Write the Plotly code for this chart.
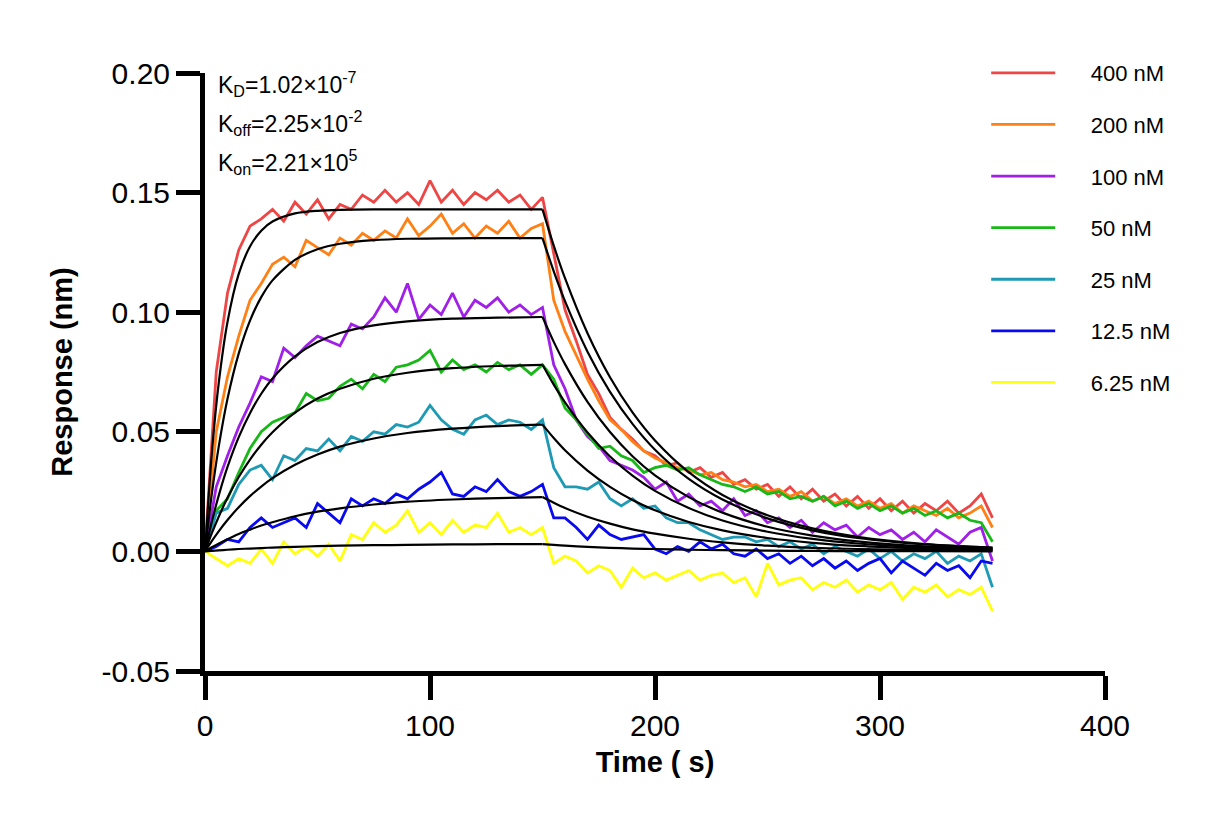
import plotly.graph_objects as go

# ---------------- data ----------------
time = list(range(0, 355, 5))  # seconds, 0..350

names = ["400 nM", "200 nM", "100 nM", "50 nM", "25 nM", "12.5 nM", "6.25 nM"]
colors = ["#EE4545", "#FF8015", "#A020E8", "#18B818", "#1E9AB4", "#0A0AF0", "#FFFF10"]

r400 = [0.000, 0.075, 0.108, 0.126, 0.136, 0.139, 0.143, 0.138, 0.146, 0.141,
        0.147, 0.139, 0.145, 0.143, 0.149, 0.146, 0.151, 0.146, 0.150, 0.145,
        0.155, 0.146, 0.151, 0.145, 0.150, 0.147, 0.151, 0.146, 0.149, 0.143,
        0.148, 0.124, 0.101, 0.088, 0.074, 0.066, 0.056, 0.051, 0.047, 0.042,
        0.040, 0.036, 0.037, 0.033, 0.035, 0.031, 0.033, 0.028, 0.030, 0.026,
        0.028, 0.023, 0.027, 0.022, 0.026, 0.021, 0.024, 0.019, 0.023, 0.018,
        0.022, 0.017, 0.021, 0.016, 0.020, 0.017, 0.021, 0.016, 0.019, 0.024,
        0.014]
r200 = [0.000, 0.050, 0.073, 0.090, 0.105, 0.112, 0.120, 0.123, 0.119, 0.130,
        0.127, 0.124, 0.131, 0.128, 0.133, 0.130, 0.134, 0.131, 0.139, 0.132,
        0.136, 0.141, 0.133, 0.137, 0.131, 0.136, 0.133, 0.138, 0.131, 0.135,
        0.137, 0.105, 0.092, 0.082, 0.072, 0.063, 0.055, 0.051, 0.046, 0.042,
        0.039, 0.037, 0.035, 0.034, 0.032, 0.033, 0.030, 0.029, 0.027, 0.028,
        0.025, 0.026, 0.023, 0.025, 0.021, 0.023, 0.020, 0.022, 0.019, 0.021,
        0.018, 0.020, 0.016, 0.019, 0.017, 0.015, 0.018, 0.014, 0.016, 0.019,
        0.010]
r100 = [0.000, 0.027, 0.040, 0.052, 0.062, 0.073, 0.071, 0.085, 0.081, 0.086,
        0.090, 0.088, 0.086, 0.095, 0.093, 0.098, 0.106, 0.100, 0.112, 0.097,
        0.103, 0.099, 0.108, 0.098, 0.105, 0.102, 0.106, 0.100, 0.103, 0.099,
        0.102, 0.078, 0.068, 0.055, 0.048, 0.044, 0.038, 0.036, 0.034, 0.031,
        0.026, 0.029, 0.021, 0.024, 0.019, 0.021, 0.017, 0.022, 0.015, 0.017,
        0.012, 0.014, 0.010, 0.013, 0.008, 0.012, 0.009, 0.011, 0.006, 0.010,
        0.007, 0.009, 0.005, 0.008, 0.004, 0.009, 0.006, 0.003, 0.008, 0.010,
        -0.004]
r50 = [0.000, 0.017, 0.022, 0.033, 0.043, 0.050, 0.054, 0.056, 0.058, 0.066,
       0.063, 0.064, 0.069, 0.072, 0.068, 0.074, 0.071, 0.077, 0.078, 0.080,
       0.084, 0.075, 0.080, 0.076, 0.078, 0.075, 0.079, 0.076, 0.078, 0.074,
       0.078, 0.072, 0.060, 0.055, 0.049, 0.043, 0.044, 0.040, 0.038, 0.033,
       0.035, 0.036, 0.034, 0.035, 0.032, 0.030, 0.028, 0.027, 0.025, 0.027,
       0.024, 0.025, 0.022, 0.023, 0.021, 0.023, 0.019, 0.021, 0.018, 0.020,
       0.017, 0.019, 0.016, 0.018, 0.015, 0.017, 0.014, 0.016, 0.013, 0.012,
       0.004]
r25 = [0.000, 0.016, 0.018, 0.028, 0.034, 0.036, 0.030, 0.040, 0.038, 0.043,
       0.042, 0.047, 0.042, 0.048, 0.046, 0.050, 0.049, 0.053, 0.052, 0.054,
       0.061, 0.055, 0.051, 0.049, 0.055, 0.057, 0.053, 0.055, 0.054, 0.051,
       0.055, 0.035, 0.027, 0.027, 0.026, 0.029, 0.022, 0.019, 0.022, 0.018,
       0.019, 0.014, 0.012, 0.012, 0.009, 0.007, 0.005, 0.006, 0.006, 0.004,
       0.005, 0.002, 0.004, 0.001, 0.003, -0.001, 0.002, 0.000, -0.002, 0.001,
       -0.003, 0.000, -0.004, -0.001, -0.003, 0.000, -0.005, -0.002, -0.004, -0.001,
       -0.015]
r12 = [0.000, 0.002, 0.005, 0.004, 0.010, 0.014, 0.010, 0.012, 0.014, 0.010,
       0.020, 0.016, 0.012, 0.022, 0.019, 0.022, 0.020, 0.024, 0.022, 0.026,
       0.029, 0.033, 0.024, 0.023, 0.027, 0.025, 0.030, 0.025, 0.023, 0.025,
       0.028, 0.014, 0.014, 0.010, 0.005, 0.011, 0.007, 0.005, 0.006, 0.007,
       0.001, -0.001, 0.002, 0.000, 0.004, 0.001, 0.003, -0.001, -0.002, 0.001,
       -0.003, -0.001, -0.005, -0.002, -0.006, -0.003, -0.007, -0.004, -0.008, -0.005,
       -0.003, -0.009, -0.004, -0.007, -0.010, -0.005, -0.008, -0.006, -0.011, -0.004,
       -0.005]
r6 = [0.000, -0.003, -0.006, -0.003, -0.005, 0.001, -0.005, 0.004, -0.001, 0.002,
      -0.002, 0.003, -0.004, 0.007, 0.005, 0.012, 0.008, 0.011, 0.017, 0.008,
      0.012, 0.007, 0.013, 0.008, 0.011, 0.010, 0.016, 0.008, 0.010, 0.007,
      0.010, -0.005, -0.002, -0.004, -0.009, -0.006, -0.008, -0.015, -0.007, -0.011,
      -0.009, -0.012, -0.010, -0.008, -0.012, -0.010, -0.009, -0.013, -0.011, -0.019,
      -0.005, -0.014, -0.012, -0.011, -0.016, -0.013, -0.015, -0.012, -0.017, -0.014,
      -0.016, -0.013, -0.020, -0.015, -0.017, -0.014, -0.019, -0.016, -0.018, -0.015,
      -0.025]
responses = [r400, r200, r100, r50, r25, r12, r6]

# global 1:1 fit curves
fit_t_assoc = [0, 3, 6, 10, 15, 20, 25, 30, 40, 50, 60, 75, 90, 110, 130, 150]
fit_t_dissoc = [150, 155, 160, 170, 180, 190, 200, 215, 230, 250, 270, 290, 320, 350]

fit_assoc = [
    [0, 0.0405, 0.0695, 0.0959, 0.1160, 0.1275, 0.1341, 0.1379, 0.1413, 0.1424, 0.1428, 0.1430, 0.1430, 0.1430, 0.1430, 0.1430],
    [0, 0.0238, 0.0432, 0.0638, 0.0828, 0.0965, 0.1063, 0.1133, 0.1219, 0.1263, 0.1286, 0.1301, 0.1307, 0.1309, 0.1310, 0.1310],
    [0, 0.0123, 0.0230, 0.0353, 0.0478, 0.0578, 0.0659, 0.0723, 0.0815, 0.0875, 0.0913, 0.0945, 0.0962, 0.0973, 0.0977, 0.0980],
    [0, 0.0075, 0.0143, 0.0224, 0.0311, 0.0384, 0.0446, 0.0498, 0.0580, 0.0639, 0.0680, 0.0722, 0.0747, 0.0766, 0.0775, 0.0780],
    [0, 0.0043, 0.0083, 0.0131, 0.0185, 0.0231, 0.0271, 0.0306, 0.0362, 0.0405, 0.0438, 0.0472, 0.0495, 0.0513, 0.0524, 0.0530],
    [0, 0.0017, 0.0032, 0.0051, 0.0073, 0.0091, 0.0108, 0.0122, 0.0147, 0.0166, 0.0180, 0.0196, 0.0208, 0.0217, 0.0223, 0.0227],
    [0, 0.0002, 0.0004, 0.0007, 0.0010, 0.0012, 0.0014, 0.0016, 0.0019, 0.0022, 0.0024, 0.0026, 0.0027, 0.0029, 0.0030, 0.0030],
]
fit_dissoc = [
    [0.1430, 0.1278, 0.1142, 0.0912, 0.0728, 0.0581, 0.0464, 0.0331, 0.0236, 0.0151, 0.0096, 0.0061, 0.0031, 0.0016],
    [0.1310, 0.1171, 0.1046, 0.0835, 0.0667, 0.0533, 0.0425, 0.0303, 0.0217, 0.0138, 0.0088, 0.0056, 0.0029, 0.0015],
    [0.0980, 0.0876, 0.0783, 0.0625, 0.0499, 0.0398, 0.0318, 0.0227, 0.0162, 0.0103, 0.0066, 0.0042, 0.0021, 0.0011],
    [0.0780, 0.0697, 0.0623, 0.0497, 0.0397, 0.0317, 0.0253, 0.0181, 0.0129, 0.0082, 0.0052, 0.0033, 0.0017, 0.0009],
    [0.0530, 0.0474, 0.0423, 0.0338, 0.0270, 0.0215, 0.0172, 0.0123, 0.0088, 0.0056, 0.0036, 0.0023, 0.0012, 0.0006],
    [0.0227, 0.0203, 0.0181, 0.0145, 0.0116, 0.0092, 0.0074, 0.0053, 0.0038, 0.0024, 0.0015, 0.0010, 0.0005, 0.0003],
    [0.0030, 0.0027, 0.0024, 0.0019, 0.0015, 0.0012, 0.0010, 0.0007, 0.0005, 0.0003, 0.0002, 0.0001, 0.0001, 0.0000],
]

kinetics = ["K<sub>D</sub>=1.02×10<sup>-7</sup>",
            "K<sub>off</sub>=2.25×10<sup>-2</sup>",
            "K<sub>on</sub>=2.21×10<sup>5</sup>"]

y_ticks = [-0.05, 0.00, 0.05, 0.10, 0.15, 0.20]
y_ticktext = ["-0.05", "0.00", "0.05", "0.10", "0.15", "0.20"]
x_ticks = [0, 100, 200, 300, 400]

# ---------------- figure ----------------
FONT = "Liberation Sans, Arial, sans-serif"
PAD = "\u00a0" * 5  # gap between legend line sample and label
fig = go.Figure()

for i, (nm, col, resp) in enumerate(zip(names, colors, responses)):
    fig.add_trace(go.Scatter(
        x=time, y=resp, mode="lines", name=PAD + nm,
        line=dict(color=col, width=2.8),
        legendgroup=nm,
    ))

for fa, fd in zip(fit_assoc, fit_dissoc):
    fig.add_trace(go.Scatter(x=fit_t_assoc, y=fa, mode="lines", showlegend=False,
                             line=dict(color="black", width=2.2, shape="spline", smoothing=0.8),
                             hoverinfo="skip"))
    fig.add_trace(go.Scatter(x=fit_t_dissoc, y=fd, mode="lines", showlegend=False,
                             line=dict(color="black", width=2.2, shape="spline", smoothing=0.8),
                             hoverinfo="skip"))

for j, txt in enumerate(kinetics):
    fig.add_annotation(x=5, y=0.1955 - j * 0.0163, xref="x", yref="y",
                       text=txt, showarrow=False, xanchor="left", yanchor="middle",
                       font=dict(family=FONT, size=23, color="black"))

# the page body adds an 8px offset; margins compensate so the plot lands where the reference has it
fig.update_layout(
    width=1223, height=825,
    paper_bgcolor="white", plot_bgcolor="white",
    margin=dict(l=197, r=126, t=65, b=162, autoexpand=False),
    font=dict(family=FONT, color="black"),
    showlegend=True,
    legend=dict(x=0.868, y=1.035, xanchor="left", yanchor="top",
                font=dict(family=FONT, size=22, color="black"),
                bgcolor="rgba(0,0,0,0)", tracegroupgap=20, itemwidth=64,
                traceorder="grouped"),
    xaxis=dict(range=[0, 400], tickvals=x_ticks, showline=True, linecolor="black",
               linewidth=5, ticks="outside", ticklen=24, tickwidth=5, tickcolor="black",
               showgrid=False, zeroline=False, automargin=False,
               tickfont=dict(family=FONT, size=30, color="black"),
               title=dict(text="<b>Time ( s)</b>", font=dict(family=FONT, size=29, color="black"),
                          standoff=12)),
    yaxis=dict(range=[-0.05, 0.2], tickvals=y_ticks, ticktext=y_ticktext, showline=True,
               linecolor="black", linewidth=5, ticks="outside", ticklen=24, tickwidth=5,
               tickcolor="black", showgrid=False, zeroline=False, automargin=False,
               tickfont=dict(family=FONT, size=30, color="black"),
               title=dict(text="<b>Response (nm)</b>", font=dict(family=FONT, size=29, color="black"),
                          standoff=22)),
)

fig.write_html("out.html")
